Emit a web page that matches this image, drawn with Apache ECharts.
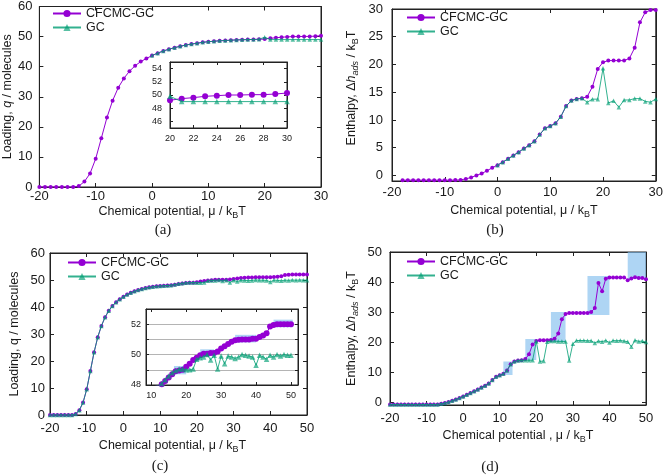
<!DOCTYPE html>
<html>
<head>
<meta charset="utf-8">
<script src="https://cdn.jsdelivr.net/npm/echarts@6/dist/echarts.min.js"></script>
<style>
html, body { margin: 0; padding: 0; background: #fff; }
#chart { width: 666px; height: 475px; }
</style>
</head>
<body>
<div id="chart"></div>
<script>
var PURPLE = '#9400d3';
var GREEN = '#009e73';
var BOX = '#222';
var TEXT = '#1a1a1a';
var SANS = '"Liberation Sans", Arial, sans-serif';

// (a) loading, mu = -20..30 (GC from 0)
var muStartA = -20;
var loadA_cfcmc = [0, 0, 0, 0, 0, 0, 0,
    0.3, 1.8, 4.5, 9.4, 16.2, 23.1, 28.7, 33.0, 36.1, 38.5, 40.3, 41.7, 42.7,
    43.7, 44.5, 45.2, 45.8, 46.3, 46.8, 47.2, 47.5, 47.8, 48.1,
    48.3, 48.45, 48.6, 48.7, 48.8, 48.9, 48.95, 49.0, 49.05, 49.1,
    49.2, 49.45, 49.6, 49.8, 49.9, 50.0, 50.0, 50.05, 50.05, 50.15, 50.3];
var muStartA_gc = 0;
var loadA_gc = [43.7, 44.5, 45.2, 45.8, 46.3, 46.8, 47.2, 47.5, 47.8, 48.1,
    48.3, 48.45, 48.6, 48.7, 48.8, 48.9, 48.95, 49.0, 49.05, 49.1,
    49.8, 49.0, 49.0, 49.0, 49.0, 49.0, 49.0, 49.0, 49.0, 49.0, 49.0];

// (b) enthalpy, mu = -18..30 (GC from 0)
var muStartB = -18;
var enthB_cfcmc = [-0.85, -0.85, -0.85, -0.85, -0.85, -0.85, -0.85, -0.85, -0.85, -0.85,
    -0.84, -0.8, -0.62, -0.36, 0.0, 0.36, 0.84, 1.38,
    1.86, 2.4, 3.0, 3.6, 4.2, 4.85, 5.45, 6.17, 7.36, 8.5,
    8.9, 9.4, 10.6, 12.5, 13.5, 13.8, 13.9, 14.2, 16.0, 19.2,
    20.4, 20.7, 20.7, 20.7, 20.7, 21.1, 23.0, 27.6, 29.4, 29.8, 29.8];
var muStartB_gc = 0;
var enthB_gc = [1.86, 2.4, 3.0, 3.6, 4.2, 4.85, 5.45, 6.17, 7.36, 8.5,
    8.9, 9.4, 10.6, 12.5, 13.5, 13.8, 13.9, 13.2, 13.75, 13.75,
    19.3, 13.05, 13.45, 12.3, 13.6, 13.6, 13.85, 13.85, 13.35, 13.2, 13.8];

// (c) loading, mu = -20..50
var muStartC = -20;
var loadC_cfcmc = [0, 0, 0, 0, 0, 0, 0,
    0.4, 1.8, 4.6, 9.5, 16.3, 23.2, 28.8, 33.0, 36.2, 38.6, 40.4, 41.8, 42.9,
    43.8, 44.6, 45.3, 45.8, 46.3, 46.7, 47.0, 47.3, 47.5, 47.7, 47.8, 47.9, 47.97,
    48.05, 48.27, 48.5, 48.7, 48.9, 48.95, 49.0, 49.2, 49.4, 49.65,
    49.8, 49.95, 50.05, 50.05, 50.1, 50.1, 50.2, 50.4, 50.55, 50.7,
    50.85, 50.95, 50.97, 51.0, 51.0, 51.0, 51.05, 51.05, 51.15, 51.25,
    51.4, 51.85, 51.95, 52.0, 52.0, 52.0, 52.0, 52.0];
var loadC_gc = [0, 0, 0, 0, 0, 0, 0,
    0.4, 1.8, 4.6, 9.5, 16.3, 23.2, 28.8, 33.0, 36.2, 38.6, 40.4, 41.8, 42.9,
    43.8, 44.6, 45.3, 45.8, 46.3, 46.7, 47.0, 47.3, 47.5, 47.7, 47.8, 47.9, 47.97,
    48.1, 48.35, 48.6, 48.8, 48.95, 49.05, 49.05, 49.0, 49.0, 49.05,
    49.7, 49.8, 49.85, 50.0, 49.65, 49.95, 49.05, 49.9, 49.4, 49.9,
    49.85, 49.75, 49.85, 50.0, 49.95, 49.9, 49.85, 49.3, 49.95, 49.85,
    49.7, 49.95, 49.85, 50.0, 49.9, 50.0, 49.95, 49.95];

// (d) enthalpy, mu = -20..50
var muStartD = -20;
var enthD_cfcmc = [-0.85, -0.85, -0.85, -0.85, -0.85, -0.85, -0.85, -0.85, -0.85, -0.85, -0.85, -0.85,
    -0.84, -0.8, -0.6, -0.35, 0.0, 0.4, 0.85, 1.35,
    1.85, 2.4, 3.0, 3.6, 4.2, 4.85, 5.45, 6.2, 7.3, 8.4,
    8.9, 9.4, 10.5, 12.6, 13.5, 13.8, 13.9, 14.3, 15.9, 19.2,
    20.3, 20.6, 20.6, 20.6, 20.7, 21.1, 22.8, 27.6, 29.3, 29.7,
    29.7, 29.7, 29.7, 29.7, 29.7, 30.0, 31.3, 39.7, 36.9, 41.1,
    41.5, 41.5, 41.5, 41.5, 41.5, 40.6, 41.2, 41.6, 41.3, 41.3, 40.9];
var enthD_gc = [-0.85, -0.85, -0.85, -0.85, -0.85, -0.85, -0.85, -0.85, -0.85, -0.85, -0.85, -0.85,
    -0.84, -0.8, -0.6, -0.35, 0.0, 0.4, 0.85, 1.35,
    1.85, 2.4, 3.0, 3.6, 4.2, 4.85, 5.45, 6.2, 7.3, 8.4,
    8.9, 9.4, 10.5, 12.6, 13.5, 13.8, 13.9, 13.9, 13.9, 13.9,
    20.2, 13.5, 13.7, 20.1, 20.3, 20.3, 20.2, 20.2, 20.2, 13.8,
    19.4, 20.5, 20.5, 20.5, 20.4, 20.4, 19.7, 20.3, 20.1, 20.5,
    19.8, 20.5, 20.4, 20.5, 20.3, 20.1, 18.4, 20.6, 20.2, 20.3, 20.0];

// shaded windows [mu0, y0, mu1, y1]
var boxesC = [[16.5, 48.7, 20, 49.25], [24, 49.9, 28, 50.35], [34, 50.8, 40, 51.3], [45, 51.8, 50.5, 52.3]];
var boxesD = [[11, 9, 13.5, 13.5], [17, 14, 20, 21], [24, 20, 28, 30], [34, 29, 40, 42], [45, 41, 50, 50]];

// tick labels
var ticksMu30 = [-20, -10, 0, 10, 20, 30];
var ticksMu50 = [-20, -10, 0, 10, 20, 30, 40, 50];
var ticksLoad = [0, 10, 20, 30, 40, 50, 60];
var ticksEnthB = [0, 5, 10, 15, 20, 25, 30];
var ticksEnthD = [0, 10, 20, 30, 40, 50];
var ticksInsetAx = [20, 22, 24, 26, 28, 30];
var ticksInsetAy = [46, 48, 50, 52, 54];
var ticksInsetCx = [10, 20, 30, 40, 50];
var ticksInsetCy = [48, 50, 52];
var gridInsetCy = [48, 49, 50, 51, 52, 53];

function pairs(start, values) {
    var out = [];
    for (var i = 0; i < values.length; i++) {
        out.push([start + i, values[i]]);
    }
    return out;
}

var nameRich = {
    n: { fontFamily: SANS, fontSize: 12.5, color: TEXT, lineHeight: 15, verticalAlign: 'top' },
    i: { fontFamily: SANS, fontSize: 12.5, color: TEXT, lineHeight: 15, verticalAlign: 'top', fontStyle: 'italic' },
    s: { fontFamily: SANS, fontSize: 9, color: TEXT, lineHeight: 10, padding: [6, 0, 0, 0], verticalAlign: 'bottom' },
    si: { fontFamily: SANS, fontSize: 9, color: TEXT, lineHeight: 10, padding: [6, 0, 0, 0], verticalAlign: 'bottom', fontStyle: 'italic' }
};

// one labelled axis plus its mirror (ticks only) on the opposite side
function axisPair(dim, gridIndex, min, max, ticks, o) {
    var tickVals = o.tickValues || ticks;
    var main = {
        type: 'value', gridIndex: gridIndex, min: min, max: max,
        position: dim === 'x' ? 'bottom' : 'left',
        axisLine: { show: true, onZero: false, lineStyle: { color: BOX, width: 1 } },
        axisTick: { show: true, inside: true, length: o.tickLen, customValues: tickVals, lineStyle: { color: BOX } },
        axisLabel: {
            show: true, customValues: ticks, fontFamily: SANS, fontSize: o.fontSize, color: TEXT,
            margin: o.margin, showMinLabel: true, showMaxLabel: true, hideOverlap: false
        },
        splitLine: { show: false }
    };
    if (o.split) {
        main.interval = 1;
        main.splitLine = { show: true, lineStyle: { color: '#b4b4b4', width: 1 } };
    }
    if (o.name) {
        main.name = o.name;
        main.nameLocation = 'middle';
        main.nameGap = o.nameGap;
        main.nameTextStyle = { rich: nameRich, padding: o.namePad || 0 };
    }
    var mirror = {
        type: 'value', gridIndex: gridIndex, min: min, max: max,
        position: dim === 'x' ? 'top' : 'right',
        axisLine: { show: true, onZero: false, lineStyle: { color: BOX, width: 1 } },
        axisTick: { show: true, inside: true, length: o.tickLen, customValues: tickVals, lineStyle: { color: BOX } },
        axisLabel: { show: false },
        splitLine: { show: false }
    };
    return [main, mirror];
}

var X_NAME = '{n|Chemical potential, μ / k}{s|B}{n|T}';
var X_NAME_D = '{n|Chemical potential , μ / k}{s|B}{n|T}';
var H_NAME = '{n|Enthalpy, Δ}{i|h}{si|ads}{n| / k}{s|B}{n|T}';

var xAxes = [].concat(
    axisPair('x', 0, -20, 30, ticksMu30, { fontSize: 13, margin: 3, tickLen: 4, name: X_NAME, nameGap: 18, namePad: [0, 16, 0, 0] }),
    axisPair('x', 1, 20, 30, ticksInsetAx, { fontSize: 9, margin: 6, tickLen: 3 }),
    axisPair('x', 2, -20, 30, ticksMu30, { fontSize: 13, margin: 5, tickLen: 4, name: X_NAME, nameGap: 23 }),
    axisPair('x', 3, -20, 50, ticksMu50, { fontSize: 13, margin: 7, tickLen: 4, name: X_NAME, nameGap: 24, namePad: [0, 12, 0, 0] }),
    axisPair('x', 4, 8.5, 52, ticksInsetCx, { fontSize: 9, margin: 6, tickLen: 3 }),
    axisPair('x', 5, -20, 50, ticksMu50, { fontSize: 13, margin: 7, tickLen: 4, name: X_NAME_D, nameGap: 24 })
);
var yAxes = [].concat(
    axisPair('y', 0, 0, 60, ticksLoad, { fontSize: 13, margin: 7, tickLen: 4, name: '{n|Loading, }{i|q}{n| / molecules}', nameGap: 18 }),
    axisPair('y', 1, 45, 55, ticksInsetAy, { fontSize: 9, margin: 8, tickLen: 3 }),
    axisPair('y', 2, -1, 30, ticksEnthB, { fontSize: 13, margin: 9, tickLen: 4, name: H_NAME, nameGap: 32, namePad: [0, 0, 0, 14] }),
    axisPair('y', 3, 0, 60, ticksLoad, { fontSize: 13, margin: 5, tickLen: 4, name: '{n|Loading, q / molecules}', nameGap: 27 }),
    axisPair('y', 4, 48, 53, ticksInsetCy, { fontSize: 9, margin: 5, tickLen: 3, tickValues: gridInsetCy, split: true }),
    axisPair('y', 5, -1, 50, ticksEnthD, { fontSize: 13, margin: 8, tickLen: 4, name: H_NAME, nameGap: 30 })
);

function curve(name, grid, data, big) {
    var isGC = name === 'GC';
    var color = isGC ? GREEN : PURPLE;
    return {
        name: name, type: 'line', xAxisIndex: grid * 2, yAxisIndex: grid * 2,
        data: data, symbol: isGC ? 'triangle' : 'circle',
        symbolSize: big ? (isGC ? 5.5 : 6) : (isGC ? 4.5 : 4),
        showSymbol: true, clip: true, z: isGC ? 3 : 2, silent: true,
        lineStyle: { color: color, width: 1, opacity: isGC ? 0.8 : 1 },
        itemStyle: { color: color, opacity: isGC ? 0.65 : 1 }
    };
}

function shade(grid, boxes) {
    var areas = [];
    for (var i = 0; i < boxes.length; i++) {
        var b = boxes[i];
        areas.push([{ coord: [b[0], b[1]] }, { coord: [b[2], b[3]] }]);
    }
    return {
        type: 'line', xAxisIndex: grid * 2, yAxisIndex: grid * 2, data: [], z: 1, silent: true,
        markArea: { silent: true, itemStyle: { color: 'rgba(130,190,238,0.65)' }, data: areas }
    };
}

function legendAt(left, top) {
    return {
        left: left, top: top, orient: 'vertical', padding: 0, itemGap: 1,
        itemWidth: 28, itemHeight: 9, selectedMode: false,
        data: ['CFCMC-GC', 'GC'],
        textStyle: { fontFamily: SANS, fontSize: 12.5, color: TEXT, lineHeight: 11 }
    };
}

var gridBase = { show: true, borderColor: BOX, borderWidth: 1, backgroundColor: '#fff', containLabel: false };
function grid(left, top, width, height) {
    return Object.assign({ left: left, top: top, width: width, height: height }, gridBase);
}

var captionFont = '15px "Liberation Serif", serif';

var option = {
    animation: false,
    backgroundColor: '#fff',
    grid: [
        grid(36, 4, 285, 183),     // a
        grid(170, 62, 117, 66),    // a inset
        grid(392, 9, 266, 172),    // b
        grid(50, 253, 257, 162),   // c
        grid(146, 309, 152, 76),   // c inset
        grid(390, 252, 256, 153)   // d
    ],
    xAxis: xAxes,
    yAxis: yAxes,
    legend: [legendAt(52, 7), legendAt(406, 11), legendAt(67, 256), legendAt(406, 255)],
    series: [
        curve('CFCMC-GC', 0, pairs(muStartA, loadA_cfcmc)),
        curve('GC', 0, pairs(muStartA_gc, loadA_gc)),
        curve('CFCMC-GC', 1, pairs(muStartA, loadA_cfcmc), true),
        curve('GC', 1, pairs(muStartA_gc, loadA_gc), true),
        curve('CFCMC-GC', 2, pairs(muStartB, enthB_cfcmc)),
        curve('GC', 2, pairs(muStartB_gc, enthB_gc)),
        curve('CFCMC-GC', 3, pairs(muStartC, loadC_cfcmc)),
        curve('GC', 3, pairs(muStartC, loadC_gc)),
        shade(4, boxesC),
        curve('CFCMC-GC', 4, pairs(muStartC, loadC_cfcmc), true),
        curve('GC', 4, pairs(muStartC, loadC_gc), true),
        shade(5, boxesD),
        curve('CFCMC-GC', 5, pairs(muStartD, enthD_cfcmc)),
        curve('GC', 5, pairs(muStartD, enthD_gc))
    ],
    graphic: [
        { type: 'text', x: 163, y: 230, style: { text: '(a)', font: captionFont, fill: TEXT, align: 'center', verticalAlign: 'middle' } },
        { type: 'text', x: 495, y: 230, style: { text: '(b)', font: captionFont, fill: TEXT, align: 'center', verticalAlign: 'middle' } },
        { type: 'text', x: 160, y: 466, style: { text: '(c)', font: captionFont, fill: TEXT, align: 'center', verticalAlign: 'middle' } },
        { type: 'text', x: 490, y: 467, style: { text: '(d)', font: captionFont, fill: TEXT, align: 'center', verticalAlign: 'middle' } }
    ]
};

var chart = echarts.init(document.getElementById('chart'));
chart.setOption(option);
</script>
</body>
</html>
